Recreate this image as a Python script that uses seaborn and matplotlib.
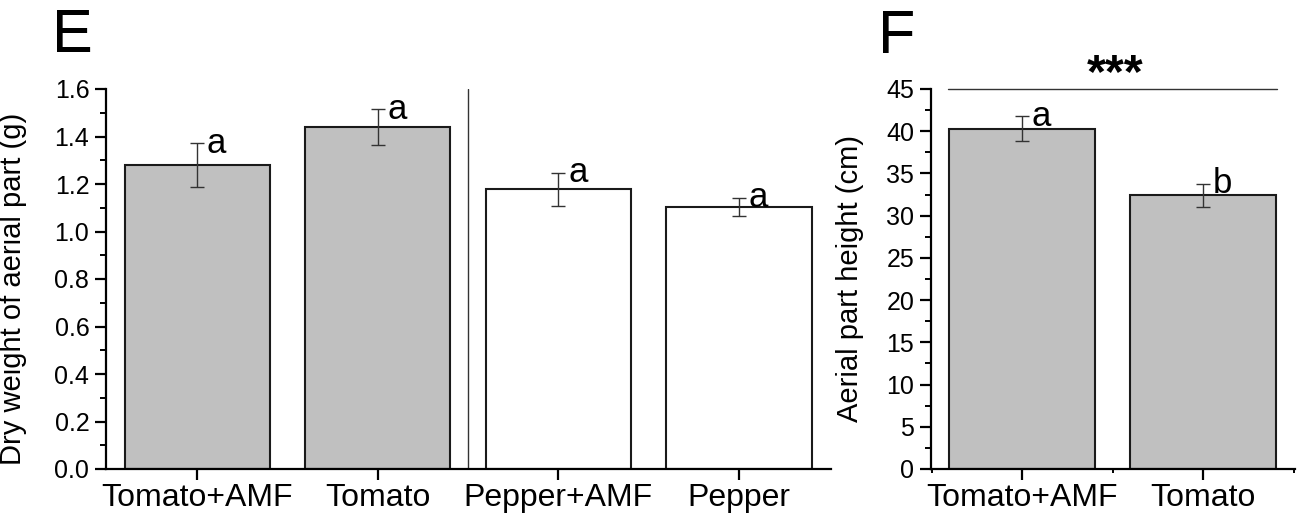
import matplotlib
matplotlib.use('Agg')
import matplotlib.pyplot as plt
import seaborn as sns
import pandas as pd
from matplotlib.ticker import MultipleLocator, FixedLocator, FormatStrFormatter

# Panel E data
e_categories = ["Tomato+AMF", "Tomato", "Pepper+AMF", "Pepper"]
e_values = [1.28, 1.44, 1.178, 1.105]
e_errors = [0.092, 0.075, 0.07, 0.038]
e_letters = ["a", "a", "a", "a"]
e_colors = ["#c0c0c0", "#c0c0c0", "#ffffff", "#ffffff"]
e_yticks = [0.0, 0.2, 0.4, 0.6, 0.8, 1.0, 1.2, 1.4, 1.6]

# Panel F data
f_categories = ["Tomato+AMF", "Tomato"]
f_values = [40.3, 32.4]
f_errors = [1.45, 1.38]
f_letters = ["a", "b"]
f_colors = ["#c0c0c0", "#c0c0c0"]
f_yticks = [0, 5, 10, 15, 20, 25, 30, 35, 40, 45]

sns.set_style('ticks')
plt.rcParams['font.family'] = ['Liberation Sans', 'DejaVu Sans']
plt.rcParams['axes.linewidth'] = 1.6
for k in ['text.color', 'axes.labelcolor', 'xtick.color', 'ytick.color',
          'axes.edgecolor', 'xtick.labelcolor', 'ytick.labelcolor']:
    plt.rcParams[k] = 'black'

W, H = 1298, 521
fig = plt.figure(figsize=(W / 100, H / 100), dpi=100)
axE = fig.add_axes([106 / W, 52 / H, 725 / W, 380 / H])
axF = fig.add_axes([931 / W, 52 / H, 364 / W, 380 / H])


def draw(ax, cats, vals, errs, letters, colors):
    df = pd.DataFrame({'cat': cats, 'val': vals})
    sns.barplot(data=df, x='cat', y='val', hue='cat', palette=colors,
                legend=False, width=0.805, edgecolor='#1a1a1a', linewidth=1.5,
                errorbar=None, saturation=1, ax=ax)
    ax.errorbar(range(len(cats)), vals, yerr=errs, fmt='none',
                ecolor='#333333', elinewidth=1.0, capsize=5, capthick=1.0,
                zorder=5)
    for i, (v, e, l) in enumerate(zip(vals, errs, letters)):
        ax.annotate(l, xy=(i, v + e), xytext=(7, 0), textcoords='offset points',
                    ha='left', va='center', fontsize=25, color='black')
    ax.set_xlabel('')
    sns.despine(ax=ax)
    ax.tick_params(axis='both', which='major', direction='out', length=8,
                   width=1.6, color='black', labelcolor='black')
    ax.tick_params(axis='both', which='minor', direction='out', length=4.5,
                   width=1.4, color='black')
    ax.tick_params(axis='x', labelsize=23, pad=2)
    ax.tick_params(axis='y', labelsize=18, pad=4)


draw(axE, e_categories, e_values, e_errors, e_letters, e_colors)
axE.set_xlim(-0.505, 3.51)
axE.set_ylim(0, 1.6)
axE.set_yticks(e_yticks)
axE.yaxis.set_major_formatter(FormatStrFormatter('%.1f'))
axE.yaxis.set_minor_locator(MultipleLocator(0.1))
axE.axvline(1.5, color='#333333', lw=1.0, zorder=1)
axE.set_ylabel('Dry weight of aerial part (g)', fontsize=21, color='black')
axE.yaxis.set_label_coords(-0.109, 0.474)

draw(axF, f_categories, f_values, f_errors, f_letters, f_colors)
axF.set_xlim(-0.503, 1.508)
axF.set_ylim(0, 45)
axF.set_yticks(f_yticks)
axF.yaxis.set_minor_locator(MultipleLocator(2.5))
axF.xaxis.set_minor_locator(FixedLocator([-0.5, 0.5, 1.5]))
axF.tick_params(axis='x', which='minor', length=3)
axF.set_ylabel('Aerial part height (cm)', fontsize=21, color='black')
axF.yaxis.set_label_coords(-0.184, 0.5)

# significance bracket
axF.plot([-0.41, 1.41], [45, 45], color='#333333', lw=1.0, clip_on=False)
fig.text(1115 / W, 1 - 87 / H, '***', ha='center', va='baseline',
         fontsize=35, fontweight='bold', color='black')

# panel letters
fig.text(52 / W, 1 - 52 / H, 'E', ha='left', va='baseline', fontsize=44, color='black')
fig.text(878 / W, 1 - 53 / H, 'F', ha='left', va='baseline', fontsize=44, color='black')

fig.savefig('out.png', dpi=100)
